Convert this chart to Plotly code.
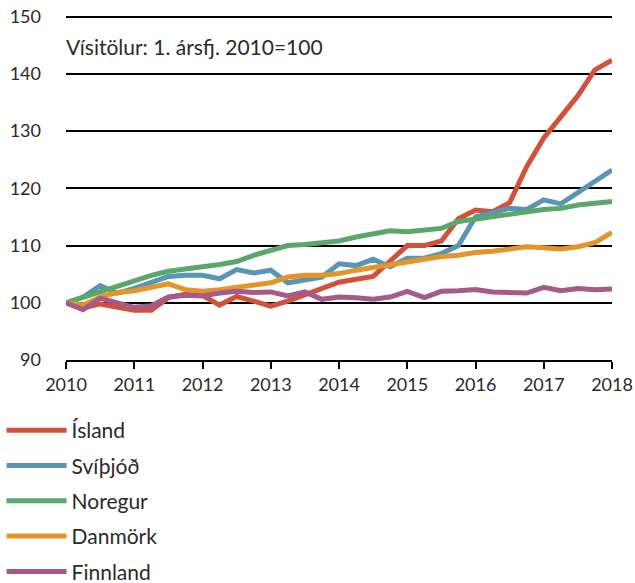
import plotly.graph_objects as go

years = [2010 + q / 4 for q in range(33)]
tick_years = list(range(2010, 2019))
y_ticks = [90, 100, 110, 120, 130, 140, 150]

island = [100, 99.1, 99.8, 99.3, 98.7, 98.7, 100.9, 101.5, 101.3, 99.6, 101.1, 100.3,
          99.4, 100.3, 101.4, 102.4, 103.6, 104.1, 104.6, 107.3, 110.0, 110.0, 110.8, 114.7,
          116.2, 115.9, 117.5, 123.8, 128.8, 132.5, 136.2, 140.7, 142.4]
svithjod = [100, 101.0, 103.0, 101.7, 102.5, 103.6, 104.6, 104.8, 104.8, 104.2, 105.8, 105.2,
            105.7, 103.5, 103.9, 104.5, 106.8, 106.5, 107.6, 106.3, 107.8, 107.8, 108.6, 110.0,
            115.0, 115.7, 116.5, 116.3, 118.0, 117.3, 119.2, 121.1, 123.2]
noregur = [100, 101.0, 101.9, 102.8, 103.8, 104.8, 105.5, 106.0, 106.3, 106.7, 107.2, 108.3,
           109.2, 110.0, 110.2, 110.4, 110.8, 111.5, 112.0, 112.6, 112.4, 112.7, 113.0, 114.2,
           114.6, 115.0, 115.6, 115.9, 116.3, 116.5, 117.1, 117.4, 117.7]
danmork = [100, 99.6, 101.0, 101.8, 102.1, 102.7, 103.3, 102.3, 102.0, 102.3, 102.7, 103.2,
           103.5, 104.5, 104.8, 104.8, 105.1, 105.7, 106.2, 106.7, 107.0, 107.7, 108.1, 108.3,
           108.8, 109.0, 109.3, 109.8, 109.6, 109.4, 109.8, 110.5, 112.3]
finnland = [100, 98.8, 100.8, 100.0, 99.2, 99.5, 101.0, 101.3, 101.2, 101.7, 102.0, 101.8,
            101.9, 101.2, 101.9, 100.6, 101.0, 100.9, 100.6, 101.0, 102.0, 100.9, 102.0, 102.1,
            102.3, 101.9, 101.7, 101.7, 102.7, 102.1, 102.5, 102.3, 102.4]

series = [
    ("Ísland", island, "#D2513A"),
    ("Svíþjóð", svithjod, "#5B95B5"),
    ("Noregur", noregur, "#5AA76A"),
    ("Danmörk", danmork, "#E3952A"),
    ("Finnland", finnland, "#A65A8A"),
]

FONT = "Lato"
TXT = "#2a2a2a"

fig = go.Figure()
for name, vals, col in series:
    fig.add_trace(go.Scatter(x=years, y=vals, name=name, mode="lines", legendgroup=name,
                             line=dict(color=col, width=5)))

fig.update_layout(
    width=635, height=583,
    margin=dict(l=66, r=23, t=15, b=223, autoexpand=False),
    paper_bgcolor="white", plot_bgcolor="white",
    font=dict(family=FONT, size=18, color=TXT),
    showlegend=True,
    legend=dict(x=-0.118, xanchor="left", y=-0.145, yanchor="top",
                orientation="v", font=dict(size=21, color=TXT), tracegroupgap=5,
                itemwidth=60,
                bgcolor="rgba(0,0,0,0)", traceorder="grouped"),
    annotations=[dict(text="Vísitölur: 1. ársfj. 2010=100", x=-0.003, y=0.91,
                      xref="paper", yref="paper", xanchor="left", yanchor="middle",
                      showarrow=False, font=dict(size=21, color=TXT))],
)
fig.update_xaxes(range=[2010, 2018], tickvals=tick_years, ticktext=[str(t) for t in tick_years],
                 showgrid=False, zeroline=False, showline=True, linecolor="black", linewidth=2,
                 ticks="outside", ticklen=7, tickwidth=2, tickcolor="black", automargin=False,
                 ticklabeloverflow="allow", tickfont=dict(size=18, color=TXT))
fig.update_yaxes(range=[90, 150.3], tickvals=y_ticks, showgrid=True, gridcolor="black",
                 gridwidth=2, zeroline=False, showline=False, ticks="", automargin=False,
                 ticklabeloverflow="allow",
                 ticklabelstandoff=24, tickfont=dict(size=18, color=TXT))

fig.write_html("out.html", config={"displayModeBar": False},
               post_script="document.body.style.margin='0';")
